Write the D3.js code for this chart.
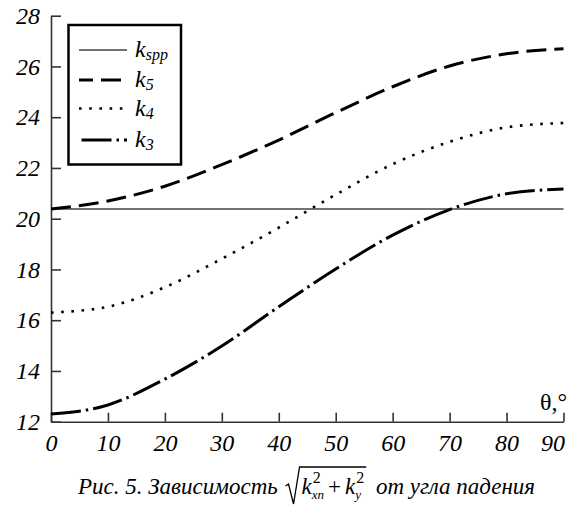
<!DOCTYPE html>
<html lang="ru">
<head>
<meta charset="UTF-8">
<script src="https://d3js.org/d3.v7.min.js"></script>
<style>
    body { margin: 0; background: #fff; }
</style>
</head>
<body>
<div id="chart"></div>
<script>
    // angle of incidence, degrees
    var theta = [0, 10, 20, 30, 40, 50, 60, 70, 80, 90];
    var kSpp = 20.38;
    var k5 = [20.38, 20.7, 21.28, 22.13, 23.1, 24.18, 25.2, 26.02, 26.5, 26.7];
    var k4 = [16.3, 16.53, 17.3, 18.42, 19.65, 20.95, 22.15, 23.03, 23.6, 23.77];
    var k3 = [12.3, 12.66, 13.68, 14.98, 16.53, 18.02, 19.35, 20.36, 20.98, 21.17];
    var xTicks = [0, 10, 20, 30, 40, 50, 60, 70, 80, 90];
    var yTicks = [12, 14, 16, 18, 20, 22, 24, 26, 28];
    var legendSubs = ["spp", "5", "4", "3"];

    var FONT = "'Liberation Serif'";
    var W = 574, H = 507;
    var svg = d3.select("#chart").append("svg")
        .attr("width", W).attr("height", H)
        .style("font-family", FONT);

    var x = d3.scaleLinear().domain([0, 90]).range([51, 563.5]);
    var y = d3.scaleLinear().domain([12, 28]).range([421.7, 15.7]);

    // axes, ticks pointing inside
    var gx = svg.append("g")
        .attr("transform", "translate(0," + y(12) + ")")
        .call(d3.axisBottom(x).tickValues(xTicks).tickSizeInner(-9).tickSizeOuter(0).tickPadding(12));
    var gy = svg.append("g")
        .attr("transform", "translate(" + x(0) + ",0)")
        .call(d3.axisLeft(y).tickValues(yTicks).tickSizeInner(-10).tickSizeOuter(0).tickPadding(11));
    [gx, gy].forEach(function (g) {
        g.attr("font-family", null).attr("font-size", null);
        g.select(".domain").attr("stroke", "#333").attr("stroke-width", 1.6);
        g.selectAll(".tick line").attr("stroke", "#333").attr("stroke-width", 1.6);
        g.selectAll(".tick text")
            .attr("fill", "#000")
            .style("font-family", FONT)
            .style("font-size", "24px")
            .style("font-style", "italic");
    });
    // last label sits left of its tick so it stays inside the picture
    gx.selectAll(".tick text").filter(function (d) { return d == 90; }).attr("x", -11);

    svg.append("text")
        .attr("x", 567).attr("y", 410)
        .attr("text-anchor", "end")
        .style("font-family", FONT)
        .style("font-size", "24px")
        .text("θ,°");

    // curves
    var line = d3.line()
        .x(function (d, i) { return x(theta[i]); })
        .y(function (d) { return y(d); })
        .curve(d3.curveMonotoneX);

    var styles = [
        { dash: null, width: 1.6, color: "#444" },
        { dash: "20,8", width: 3, color: "#000" },
        { dash: "2.6,7.6", width: 2.6, color: "#000" },
        { dash: "30,5,2.5,5", width: 3, color: "#000" }
    ];

    svg.append("line")
        .attr("x1", x(0)).attr("x2", x(90))
        .attr("y1", y(kSpp)).attr("y2", y(kSpp))
        .attr("stroke", styles[0].color)
        .attr("stroke-width", styles[0].width);

    [k5, k4, k3].forEach(function (s, i) {
        var st = styles[i + 1];
        svg.append("path")
            .datum(s)
            .attr("d", line)
            .attr("fill", "none")
            .attr("stroke", st.color)
            .attr("stroke-width", st.width)
            .attr("stroke-dasharray", st.dash);
    });

    // legend
    var lg = svg.append("g");
    lg.append("rect")
        .attr("x", 68.5).attr("y", 25)
        .attr("width", 112.5).attr("height", 139.5)
        .attr("fill", "#fff")
        .attr("stroke", "#000")
        .attr("stroke-width", 2.5);
    var rowsY = [50, 80, 108.5, 140];
    legendSubs.forEach(function (sub, i) {
        var st = styles[i];
        lg.append("line")
            .attr("x1", 79).attr("x2", 127)
            .attr("y1", rowsY[i]).attr("y2", rowsY[i])
            .attr("stroke", st.color)
            .attr("stroke-width", st.width)
            .attr("stroke-dasharray", st.dash)
            .attr("stroke-dashoffset", i == 3 ? 40 : (i == 1 ? 6 : 0));
        var t = lg.append("text")
            .attr("x", 135).attr("y", rowsY[i] + 7)
            .style("font-family", FONT)
            .style("font-size", "24px")
            .style("font-style", "italic");
        t.append("tspan").text("k");
        t.append("tspan").attr("dy", 3).style("font-size", "16px").text(sub);
    });

    // caption with radical
    var cap = svg.append("g");
    var base = 494, cx = 0;
    function piece(str, opt) {
        opt = opt || {};
        var t = cap.append("text")
            .attr("x", cx + (opt.dx || 0))
            .attr("y", base + (opt.dy || 0))
            .style("font-family", FONT)
            .style("font-size", (opt.size || 23) + "px")
            .style("font-style", opt.upright ? "normal" : "italic")
            .style("white-space", "pre")
            .text(str);
        return t.node().getComputedTextLength();
    }
    cx += piece("Рис. 5. Зависимость ");
    var rx = cx + 2;
    cx = rx + 16;
    function kTerm(sub) {
        var w = piece("k");
        var start = cx + w;
        cx = start;
        var ws = piece(sub, { size: 13, dy: 5 });
        var wp = piece("2", { size: 16, dy: -11, upright: true, dx: 1 });
        cx = start + Math.max(ws, wp + 1);
    }
    kTerm("xn");
    cx += 4;
    cx += piece("+", { upright: true });
    cx += 4;
    kTerm("y");
    var rEnd = cx + 2;
    cap.append("path")
        .attr("d", "M" + rx + "," + (base - 8) + " L" + (rx + 3) + "," + (base - 10) +
            " L" + (rx + 8) + "," + (base + 10) + " L" + (rx + 14) + "," + (base - 27) +
            " L" + rEnd + "," + (base - 27))
        .attr("fill", "none")
        .attr("stroke", "#000")
        .attr("stroke-width", 1.3);
    cx = rEnd + 4;
    cx += piece(" от угла падения");
    // center caption under the plot
    var bb = cap.node().getBBox();
    cap.attr("transform", "translate(" + (306 - bb.width / 2 - bb.x) + ",0)");
</script>
</body>
</html>
